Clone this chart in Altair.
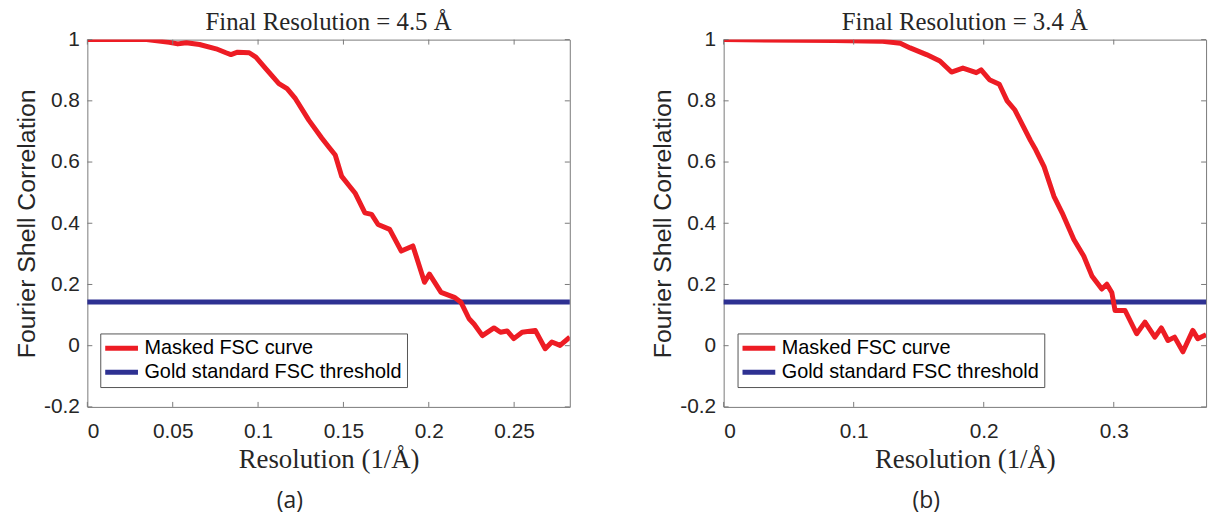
import altair as alt
import pandas as pd

# ---------------- data ----------------
series = ["Masked FSC curve", "Gold standard FSC threshold"]
colors = ["#ed1c24", "#2e3192"]
threshold = 0.143

a_x = [0.0, 0.0347, 0.048, 0.053, 0.058, 0.0657, 0.0754, 0.0812, 0.0841, 0.088, 0.0948,
       0.0987, 0.1045, 0.1122, 0.117, 0.1219, 0.1297, 0.1374, 0.1413, 0.1452, 0.149,
       0.1529, 0.1568, 0.1626, 0.1665, 0.1703, 0.1771, 0.1839, 0.1907, 0.1975, 0.2004,
       0.2072, 0.215, 0.2188, 0.2236, 0.2265, 0.2314, 0.2382, 0.242, 0.2459, 0.2498,
       0.2547, 0.2624, 0.2682, 0.2721, 0.2769, 0.2826]
a_y = [1.0, 1.0, 0.991, 0.986, 0.990, 0.984, 0.970, 0.957, 0.951, 0.959, 0.957,
       0.943, 0.905, 0.856, 0.840, 0.807, 0.737, 0.678, 0.650, 0.623, 0.553,
       0.526, 0.499, 0.434, 0.429, 0.396, 0.380, 0.309, 0.326, 0.207, 0.234,
       0.174, 0.158, 0.142, 0.088, 0.071, 0.033, 0.058, 0.044, 0.048, 0.023,
       0.044, 0.050, -0.010, 0.012, 0.001, 0.028]

b_x = [0.0, 0.085, 0.1205, 0.1358, 0.1434, 0.156, 0.1663, 0.1752, 0.184, 0.1943, 0.198,
       0.2044, 0.212, 0.218, 0.224, 0.230, 0.236, 0.240, 0.2464, 0.254, 0.2603, 0.2693,
       0.2769, 0.2832, 0.2908, 0.2947, 0.2985, 0.301, 0.3087, 0.3176, 0.324, 0.3316,
       0.3366, 0.3417, 0.3468, 0.3532, 0.3608, 0.3646, 0.371]
b_y = [1.0, 0.997, 0.995, 0.988, 0.973, 0.951, 0.930, 0.894, 0.907, 0.892, 0.901,
       0.869, 0.854, 0.80, 0.77, 0.72, 0.67, 0.640, 0.585, 0.488, 0.434, 0.347,
       0.293, 0.228, 0.185, 0.201, 0.174, 0.115, 0.115, 0.039, 0.077, 0.028,
       0.058, 0.017, 0.028, -0.020, 0.050, 0.023, 0.036]

a_xmax = 0.2826
b_xmax = 0.371
a_xticks = [0, 0.05, 0.1, 0.15, 0.2, 0.25]
b_xticks = [0, 0.1, 0.2, 0.3]
y_ticks = [-0.2, 0, 0.2, 0.4, 0.6, 0.8, 1]
titles = ["Final Resolution = 4.5 Å", "Final Resolution = 3.4 Å"]
captions = ["(a)", "(b)"]

W, H = 486, 370
BOX = "#7a7a7a"
TXT = "#262626"
SYMBOL = "M-2.2,0H2.2"


def panel(xs, ys, xmax, xticks, title, caption, legx):
    xscale = alt.Scale(domain=[0, xmax], nice=False, zero=False)
    yscale = alt.Scale(domain=[-0.2, 1], nice=False)
    color = alt.Color(
        "series:N",
        scale=alt.Scale(domain=series, range=colors),
        title=None,
        legend=alt.Legend(orient="none", legendX=legx, legendY=296, symbolType=SYMBOL,
                          symbolSize=225, symbolStrokeWidth=5, symbolOffset=6.5,
                          labelOffset=13, rowPadding=4, padding=5),
    )
    xaxis = alt.Axis(values=xticks, title="Resolution (1/Å)", ticks=False, domain=False,
                     grid=False, labelExpr="'' + datum.value", labelPadding=14,
                     labelFont="Liberation Sans", labelFontSize=21, labelColor=TXT,
                     titleFont="Liberation Serif", titleFontSize=27, titleFontWeight="normal",
                     titleColor=TXT, titlePadding=5)
    yaxis = alt.Axis(values=y_ticks, title="Fourier Shell Correlation", ticks=False,
                     domain=False, grid=False, labelExpr="'' + datum.value", labelPadding=8,
                     labelFont="Liberation Sans", labelFontSize=21, labelColor=TXT,
                     titleFont="Liberation Sans", titleFontSize=25, titleFontWeight="normal",
                     titleColor=TXT, titlePadding=4)

    thr = pd.DataFrame({"x": [0, xmax], "y": [threshold, threshold], "series": [series[1]] * 2})
    fsc = pd.DataFrame({"x": xs, "y": ys, "series": [series[0]] * len(xs)})

    thr_line = alt.Chart(thr).mark_line(strokeWidth=5).encode(
        x=alt.X("x:Q", scale=xscale, axis=xaxis),
        y=alt.Y("y:Q", scale=yscale, axis=yaxis),
        color=color,
    )
    fsc_line = alt.Chart(fsc).mark_line(strokeWidth=5, clip=True, strokeJoin="round").encode(
        x=alt.X("x:Q", scale=xscale),
        y=alt.Y("y:Q", scale=yscale),
        color=color,
    )

    xt = pd.DataFrame({"v": xticks})
    yt = pd.DataFrame({"v": y_ticks})
    tb = alt.Chart(xt).mark_rule(color=BOX, strokeWidth=1).encode(
        x=alt.X("v:Q", scale=xscale), y=alt.value(H), y2=alt.value(H - 5))
    tt = alt.Chart(xt).mark_rule(color=BOX, strokeWidth=1).encode(
        x=alt.X("v:Q", scale=xscale), y=alt.value(0), y2=alt.value(5))
    tl = alt.Chart(yt).mark_rule(color=BOX, strokeWidth=1).encode(
        y=alt.Y("v:Q", scale=yscale), x=alt.value(0), x2=alt.value(5))
    tr = alt.Chart(yt).mark_rule(color=BOX, strokeWidth=1).encode(
        y=alt.Y("v:Q", scale=yscale), x=alt.value(W), x2=alt.value(W - 5))

    cap = alt.Chart(pd.DataFrame({"t": [caption]})).mark_text(
        font="Open Sans", fontSize=23, color=TXT, baseline="middle", align="center"
    ).encode(x=alt.value(W / 2 - 39), y=alt.value(465), text="t:N")

    return alt.layer(thr_line, fsc_line, tb, tt, tl, tr, cap).properties(
        width=W, height=H,
        title=alt.TitleParams(title, font="Liberation Serif", fontSize=25,
                              fontWeight="normal", color=TXT, offset=-6),
    )


left = panel(a_x, a_y, a_xmax, a_xticks, titles[0], captions[0], 13)
right = panel(b_x, b_y, b_xmax, b_xticks, titles[1], captions[1], 14)

chart = alt.hconcat(left, right, spacing=70).resolve_legend(color="independent").properties(
    padding={"left": 14, "top": 7, "right": 0, "bottom": 0}
).configure_view(stroke=BOX, strokeWidth=1).configure_legend(
    strokeColor="#555555", fillColor="white", labelFont="Liberation Sans",
    labelFontSize=20, labelColor="black", cornerRadius=0, labelLimit=400,
).configure_concat(spacing=70)

chart.save("out.html", embed_options={"renderer": "svg", "actions": False})
